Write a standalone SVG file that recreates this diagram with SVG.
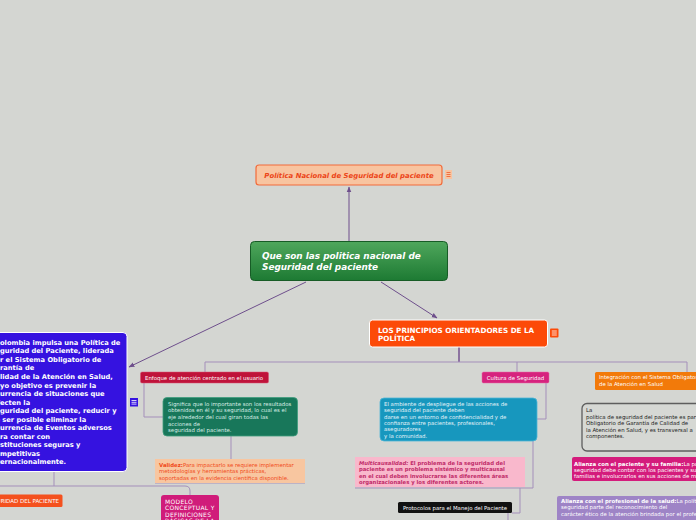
<svg xmlns="http://www.w3.org/2000/svg" width="696" height="520" viewBox="0 0 696 520">
<defs>
<style>
text{font-family:"DejaVu Sans",Verdana,sans-serif}
.s{font-size:5.4px}
.sb{font-size:5.3px;font-weight:bold}
.b{font-weight:bold}
.c{fill:none;stroke:#a48fba;stroke-width:1}
.a{fill:none;stroke:#6e4f8c;stroke-width:1}
.w{fill:#ffffff}
</style>
<marker id="ah" viewBox="0 0 10 10" refX="9" refY="5" markerWidth="6" markerHeight="6" orient="auto" markerUnits="userSpaceOnUse"><path d="M0,1 L10,5 L0,9 z" fill="#6e4f8c"/></marker>
<linearGradient id="gc" x1="0" y1="0" x2="0" y2="1"><stop offset="0" stop-color="#4fa75c"/><stop offset="1" stop-color="#1d7a33"/></linearGradient>
</defs>
<rect width="696" height="520" fill="#d4d6d2"/>

<g id="connectors">
<path class="a" d="M349,241 V187" marker-end="url(#ah)"/>
<path class="a" d="M306,282 L129,367" marker-end="url(#ah)"/>
<path class="a" d="M381,282 L437,318" marker-end="url(#ah)"/>
<path d="M459,347 V362" fill="none" stroke="#7a5a94" stroke-width="1.6"/>
<path class="c" d="M205,372 V362 H687 V372"/>
<path class="c" d="M517,362 V372"/>
<path class="c" d="M144,383 V417 H163"/>
<path class="c" d="M231,436 V459"/>
<path class="c" d="M155,483 H305"/>
<path class="c" d="M54,471 V486"/>
<path class="c" d="M0,486 H185 Q190,486 190,491 V495"/>
<path class="c" d="M546,383 V419 H537"/>
<path class="c" d="M533,441 V488 H355"/>
<path class="c" d="M520,488 V513 H512"/>
<path class="c" d="M508,513 V520"/>
</g>

<g id="n-politica">
<rect x="256" y="165" width="186" height="20" rx="3" fill="#f8c4a0" stroke="#f26b3a" stroke-width="1.2"/>
<text x="349" y="177.5" text-anchor="middle" font-size="6.9" font-weight="bold" font-style="italic" fill="#ec4418">Política Nacional de Seguridad del paciente</text>
<rect x="445" y="170" width="7" height="9" fill="#f8c4a0"/>
<path d="M446.5,172.5 H450.5 M446.5,174.5 H450.5 M446.5,176.5 H450.5" stroke="#ec5a2a" stroke-width="0.8"/>
</g>

<g id="n-central">
<rect x="250.5" y="241.5" width="197" height="39" rx="4" fill="url(#gc)" stroke="#175c26" stroke-width="1"/>
<text x="262" y="259" font-size="8.9" font-weight="bold" font-style="italic" class="w">Que son las politica nacional de</text>
<text x="262" y="270" font-size="8.9" font-weight="bold" font-style="italic" class="w">Seguridad del paciente</text>
</g>

<g id="n-colombia">
<rect x="-6" y="332.5" width="133" height="139" rx="4" fill="#3512e0" stroke="#ffffff" stroke-width="1"/>
<g font-size="6.7" font-weight="bold" class="w">
<text x="-4.9" y="344.8">Colombia impulsa una Política de</text>
<text x="-9.4" y="353.3">Seguridad del Paciente, liderada</text>
<text x="-9.4" y="361.9">por el Sistema Obligatorio de</text>
<text x="-10" y="370.4">Garantía de</text>
<text x="-9.4" y="379">Calidad de la Atención en Salud,</text>
<text x="-8.7" y="387.5">cuyo objetivo es prevenir la</text>
<text x="-8.6" y="396">ocurrencia de situaciones que</text>
<text x="-7.4" y="404.6">afecten la</text>
<text x="-8.5" y="413.1">seguridad del paciente, reducir y</text>
<text x="-9.3" y="421.7">de ser posible eliminar la</text>
<text x="-8.6" y="430.2">ocurrencia de Eventos adversos</text>
<text x="-9.3" y="438.7">para contar con</text>
<text x="-7.1" y="447.3">instituciones seguras y</text>
<text x="-8.6" y="455.8">competitivas</text>
<text x="-10.3" y="464.4">internacionalmente.</text>
</g>
<rect x="130" y="398" width="8" height="8.5" fill="#3512e0"/>
<path d="M131.5,400.5 H136.5 M131.5,402.3 H136.5 M131.5,404.1 H136.5" stroke="#ffffff" stroke-width="0.8"/>
</g>

<g id="n-seguridad">
<rect x="-4" y="494.5" width="66.5" height="12.5" rx="1.5" fill="#f4511e"/>
<text x="59" y="503" text-anchor="end" font-size="5.5" class="w">SEGURIDAD DEL PACIENTE</text>
</g>

<g id="n-modelo">
<rect x="161" y="495" width="58" height="32" rx="3" fill="#d01c7a"/>
<g font-size="6" class="w" letter-spacing="0.3">
<text x="165" y="503.5">MODELO</text>
<text x="165" y="510">CONCEPTUAL Y</text>
<text x="165" y="516.5">DEFINICIONES</text>
<text x="165" y="523">BÁSICAS DE LA</text>
</g>
</g>

<g id="n-principios">
<rect x="369.5" y="320" width="178" height="27" rx="3" fill="#fc4a08" stroke="#ffffff" stroke-width="1"/>
<text x="378" y="332.5" font-size="7.2" font-weight="bold" class="w">LOS PRINCIPIOS ORIENTADORES DE LA</text>
<text x="378" y="341" font-size="7.2" font-weight="bold" class="w">POLÍTICA</text>
<rect x="550" y="328.5" width="8.5" height="9" rx="1" fill="#fc4a08"/>
<path d="M551.8,331 H556.8 M551.8,333 H556.8 M551.8,335 H556.8" stroke="#ffffff" stroke-width="0.8"/>
</g>

<g id="n-enfoque">
<rect x="140.5" y="372" width="128" height="11" rx="1.5" fill="#bf133a" stroke="#d85070" stroke-width="0.5"/>
<text x="145" y="379.7" class="s w">Enfoque de atención centrado en el usuario</text>
</g>

<g id="n-significa">
<rect x="163" y="397.5" width="134.5" height="38.5" rx="4" fill="#18775a" stroke="#3f9c7c" stroke-width="0.8"/>
<g class="s" fill="#d8eee6">
<text x="168" y="405.7">Significa que lo importante son los resultados</text>
<text x="168" y="412.3">obtenidos en él y su seguridad, lo cual es el</text>
<text x="168" y="419">eje alrededor del cual giran todas las</text>
<text x="168" y="425.6">acciones de</text>
<text x="168" y="431.8">seguridad del paciente.</text>
</g>
</g>

<g id="n-validez">
<rect x="155" y="459" width="150" height="24" fill="#f8c6a0"/>
<g class="s" fill="#f04a1a">
<text x="159" y="467"><tspan font-weight="bold">Validez:</tspan>Para impactarlo se requiere implementar</text>
<text x="159" y="473">metodologías y herramientas prácticas,</text>
<text x="159" y="479.5">soportadas en la evidencia científica disponible.</text>
</g>
</g>

<g id="n-cultura">
<rect x="482" y="372" width="67" height="11" rx="1.5" fill="#d6237e" stroke="#e66aa6" stroke-width="0.5"/>
<text x="515.5" y="379.7" text-anchor="middle" class="s w">Cultura de Seguridad</text>
</g>

<g id="n-ambiente">
<rect x="380" y="398" width="157" height="43" rx="4" fill="#1797be" stroke="#4eb6d6" stroke-width="0.8"/>
<g class="s" fill="#e4f3f9">
<text x="384" y="406">El ambiente de despliegue de las acciones de</text>
<text x="384" y="412">seguridad del paciente deben</text>
<text x="384" y="418.5">darse en un entorno de confidencialidad y de</text>
<text x="384" y="425">confianza entre pacientes, profesionales,</text>
<text x="384" y="431">aseguradores</text>
<text x="384" y="437.5">y la comunidad.</text>
</g>
</g>

<g id="n-multicausalidad">
<rect x="355" y="457" width="170" height="30" fill="#f9b8cc"/>
<g class="sb" fill="#c02a68">
<text x="359" y="465"><tspan font-style="italic">Multicausalidad:</tspan> El problema de la seguridad del</text>
<text x="359" y="471">paciente es un problema sistémico y multicausal</text>
<text x="359" y="477.5">en el cual deben involucrarse las diferentes áreas</text>
<text x="359" y="484">organizacionales y los diferentes actores.</text>
</g>
</g>

<g id="n-protocolos">
<rect x="398" y="502" width="114" height="11" rx="1.5" fill="#111111"/>
<text x="455" y="509.6" text-anchor="middle" class="s w">Protocolos para el Manejo del Paciente</text>
</g>

<g id="n-integracion">
<rect x="595" y="372" width="110" height="18" rx="1.5" fill="#f27a0a"/>
<text x="599" y="379" class="s w">Integración con el Sistema Obligatorio</text>
<text x="599" y="386.3" class="s w">de la Atención en Salud</text>
</g>

<g id="n-la-politica">
<rect x="582" y="403.5" width="125" height="47.5" rx="5" fill="#d6d8d4" stroke="#5e5e5e" stroke-width="1.3"/>
<g class="s" fill="#222222">
<text x="586" y="412">La</text>
<text x="586" y="418.5">política de seguridad del paciente es parte</text>
<text x="586" y="425">Obligatorio de Garantía de Calidad de</text>
<text x="586" y="431.5">la Atención en Salud, y es transversal a</text>
<text x="586" y="438">componentes.</text>
</g>
</g>

<g id="n-alianza-paciente">
<rect x="572" y="457" width="130" height="24" rx="2" fill="#d41c7c"/>
<g class="s w">
<text x="574" y="466"><tspan font-weight="bold">Alianza con el paciente y su familia:</tspan>La política</text>
<text x="574" y="471.8">seguridad debe contar con los pacientes y sus</text>
<text x="574" y="477.8">familias e involucrarlos en sus acciones de mejora</text>
</g>
</g>

<g id="n-alianza-profesional">
<rect x="557" y="496" width="145" height="30" rx="2" fill="#9e84c6"/>
<g class="s w">
<text x="561" y="503"><tspan font-weight="bold">Alianza con el profesional de la salud:</tspan>La política</text>
<text x="561" y="509.3">seguridad parte del reconocimiento del</text>
<text x="561" y="515.6">carácter ético de la atención brindada por el profesional</text>
</g>
</g>
</svg>
